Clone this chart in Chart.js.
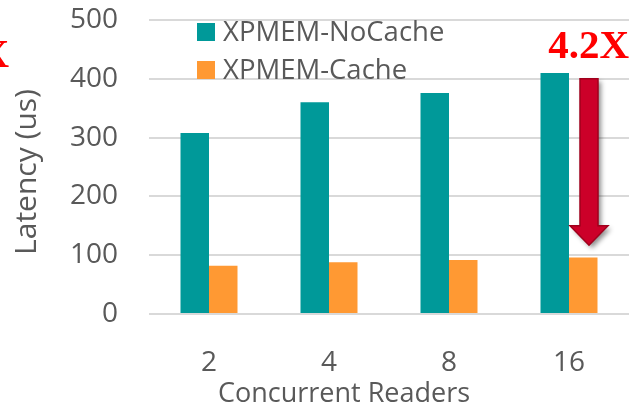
<!DOCTYPE html>
<html>
<head>
<meta charset="utf-8">
<script src="https://cdn.jsdelivr.net/npm/chart.js@4"></script>
<style>
  html, body { margin: 0; padding: 0; background: #fff; }
  #wrap { width: 633px; height: 408px; }
</style>
</head>
<body>
<div id="wrap"><canvas id="chart" width="633" height="408"></canvas></div>
<script>
// values
const readers = ['2', '4', '8', '16'];
const noCache = [308, 360, 376, 410];
const withCache = [82, 88, 92, 96];
const yTicks = [0, 100, 200, 300, 400, 500];
const speedup = '4.2X';
const xTitle = 'Concurrent Readers';
const yTitle = 'Latency (us)';

const FONT = '"Open Sans", "Noto Sans", sans-serif';
const GREY = '#595959';

// legend inside the plot, top left, like the original
const legendPlugin = {
  id: 'insideLegend',
  afterDatasetsDraw(chart) {
    const ctx = chart.ctx;
    ctx.save();
    ctx.font = '27.5px ' + FONT;
    ctx.textBaseline = 'middle';
    chart.data.datasets.forEach((ds, i) => {
      const y = 32 + i * 38;
      ctx.fillStyle = ds.backgroundColor;
      ctx.fillRect(197, y - 9, 18, 18);
      ctx.fillStyle = GREY;
      ctx.fillText(ds.label, 223, y + 1);
    });
    ctx.restore();
  }
};

// axis titles: in the original they sit a bit off the axis centre
const titlesPlugin = {
  id: 'axisTitles',
  afterDraw(chart) {
    const ctx = chart.ctx;
    ctx.save();
    ctx.fillStyle = GREY;
    ctx.textAlign = 'center';
    ctx.textBaseline = 'middle';
    ctx.font = '27px ' + FONT;
    ctx.fillText(xTitle, 344, 394);
    ctx.translate(27, 172);
    ctx.rotate(-Math.PI / 2);
    ctx.font = '30px ' + FONT;
    ctx.fillText(yTitle, 0, 0);
    ctx.restore();
  }
};

// red arrow + "4.2X" note over the last group
const arrowPlugin = {
  id: 'speedupArrow',
  afterDatasetsDraw(chart) {
    const ctx = chart.ctx;
    const x = chart.scales.x, y = chart.scales.y;
    const cx = x.getPixelForValue(readers.length - 1) + 20;
    const top = y.getPixelForValue(400);
    const headTop = y.getPixelForValue(150);
    const tip = y.getPixelForValue(117);

    ctx.save();
    ctx.shadowColor = 'rgba(0,0,0,0.45)';
    ctx.shadowBlur = 5;
    ctx.shadowOffsetX = 3;
    ctx.shadowOffsetY = 3;
    ctx.beginPath();
    ctx.moveTo(cx - 9, top);
    ctx.lineTo(cx + 9, top);
    ctx.lineTo(cx + 9, headTop);
    ctx.lineTo(cx + 19, headTop);
    ctx.lineTo(cx, tip);
    ctx.lineTo(cx - 19, headTop);
    ctx.lineTo(cx - 9, headTop);
    ctx.closePath();
    ctx.fillStyle = '#cc0029';
    ctx.fill();
    ctx.shadowColor = 'transparent';
    ctx.strokeStyle = '#a0001c';
    ctx.lineWidth = 1.5;
    ctx.stroke();

    ctx.fillStyle = '#ff0000';
    ctx.font = 'bold 41px "Liberation Serif", "Times New Roman", serif';
    ctx.textAlign = 'right';
    ctx.textBaseline = 'alphabetic';
    ctx.fillText(speedup, chart.chartArea.right, 58);
    // left over "X" from the neighbouring panel, cut by the edge
    ctx.fillText('X', 9, 67);
    ctx.restore();
  }
};

new Chart(document.getElementById('chart'), {
  type: 'bar',
  data: {
    labels: readers,
    datasets: [{
      label: 'XPMEM-NoCache',
      data: noCache,
      backgroundColor: '#009999',
      categoryPercentage: 0.475,
      barPercentage: 1.0
    }, {
      label: 'XPMEM-Cache',
      data: withCache,
      backgroundColor: '#ff9933',
      categoryPercentage: 0.475,
      barPercentage: 1.0
    }]
  },
  options: {
    responsive: false,
    animation: false,
    layout: { padding: { top: 20, right: 4, left: 0, bottom: 0 } },
    plugins: {
      legend: { display: false },
      tooltip: { enabled: false }
    },
    scales: {
      x: {
        grid: { display: false },
        border: { display: false },
        ticks: { color: GREY, font: { family: FONT, size: 28 }, padding: 24 },
        afterFit(scale) {
          scale.height = 94;
          scale.paddingLeft = 0;
          scale.paddingRight = 0;
        }
      },
      y: {
        min: 0,
        max: 500,
        afterBuildTicks(scale) { scale.ticks = yTicks.map(v => ({ value: v })); },
        grid: { color: '#d9d9d9', lineWidth: 2, drawTicks: false },
        border: { display: false },
        ticks: { color: GREY, font: { family: FONT, size: 28 }, padding: 31 },
        afterFit(scale) {
          scale.width = 149;
          scale.paddingTop = 0;
          scale.paddingBottom = 0;
        }
      }
    }
  },
  plugins: [legendPlugin, titlesPlugin, arrowPlugin]
});
</script>
</body>
</html>
